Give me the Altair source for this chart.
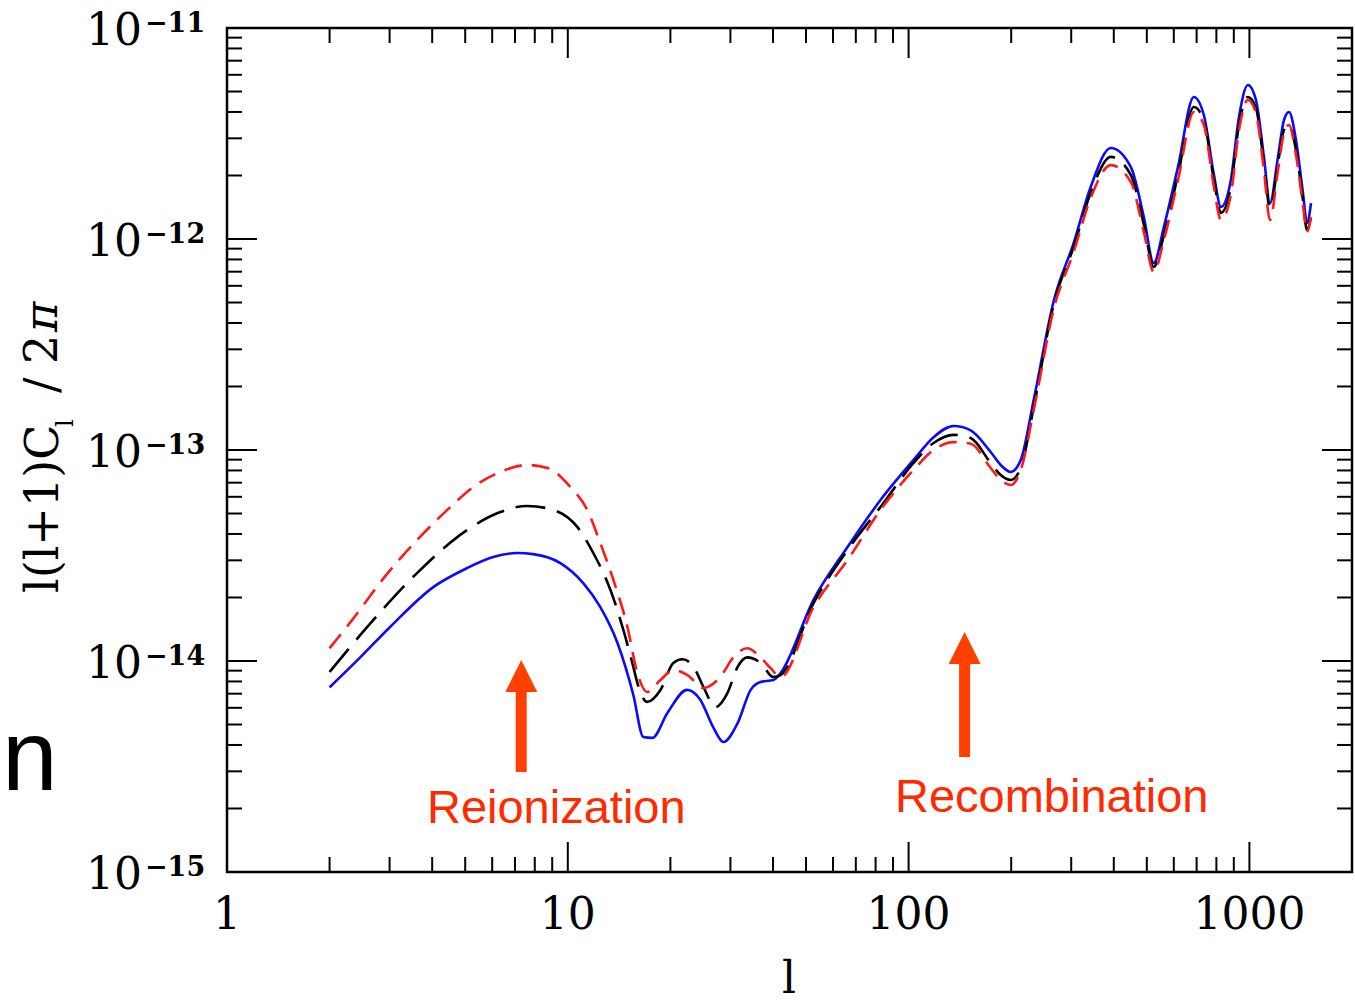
import altair as alt
import pandas as pd

# Plot area size in pixels (frame of the log-log panel)
W, H = 1125, 844

# ---- Angular power spectra l(l+1)C_l/2pi for three reionization histories ----
ell_blue = [2, 2.46, 3.01, 4.03, 5.07, 6.04, 7.11, 7.92, 9.51, 11.1, 12.46, 13.98,
            15.57, 16.66, 17.7, 19.6, 22.4, 24.5, 26.7, 28.6, 31.5, 34.4, 36.8, 40.1,
            42.1, 52.6, 66.2, 82.7, 103.4, 118.4, 135.6, 152.1, 174.1, 186.3, 199.4, 213.3, 232.9,
            267, 305, 342, 392, 449, 490, 524, 561, 617, 687, 735, 787, 825, 882, 932,
            990, 1045, 1103, 1149, 1213, 1263, 1307, 1370, 1436, 1476, 1516]
cl_blue = [7.5e-15, 1.04e-14, 1.45e-14, 2.24e-14, 2.76e-14, 3.11e-14, 3.25e-14, 3.21e-14,
           2.91e-14, 2.34e-14, 1.80e-14, 1.22e-14, 6.9e-15, 4.36e-15, 4.32e-15, 5.67e-15,
           7.3e-15, 6.54e-15, 4.86e-15, 4.13e-15, 5.08e-15, 7.3e-15, 7.95e-15, 8.12e-15,
           8.77e-15, 1.95e-14, 3.47e-14, 5.79e-14, 8.97e-14, 1.15e-13, 1.30e-13, 1.24e-13,
           9.78e-14, 8.49e-14, 7.87e-14, 8.97e-14, 1.73e-13,
           5.14e-13, 9.57e-13, 1.76e-12, 2.70e-12, 2.19e-12, 1.27e-12, 7.69e-13, 1.14e-12,
           2.19e-12, 4.71e-12, 3.87e-12, 2.01e-12, 1.42e-12, 1.90e-12, 3.79e-12, 5.37e-12,
           4.56e-12, 2.45e-12, 1.48e-12, 2.45e-12, 3.66e-12, 4.00e-12, 2.94e-12, 1.65e-12,
           1.19e-12, 1.48e-12]

ell_black = [2, 2.58, 3.61, 5.07, 6.34, 7.60, 9.06, 10.66, 11.88, 13.34, 14.56, 15.57,
             16.0, 17.1, 18.7, 20.4, 21.7, 23.4, 25.0, 27.1, 29.4, 31.5, 33.6, 36.8, 40.1,
             42.1, 52.6, 66.2, 82.7, 103.4, 118.4, 135.6, 152.1, 174.1, 186.3, 199.4, 213.3, 232.9,
             267, 305, 342, 392, 449, 490, 524, 561, 617, 687, 735, 787, 825, 882, 932,
             990, 1045, 1103, 1149, 1213, 1263, 1307, 1370, 1436, 1476, 1516]
cl_black = [8.87e-15, 1.45e-14, 2.61e-14, 4.18e-14, 5.08e-14, 5.43e-14, 5.20e-14, 4.32e-14,
            3.25e-14, 2.17e-14, 1.40e-14, 9.37e-15, 7.87e-15, 6.40e-15, 7.29e-15, 9.79e-15,
            1.02e-14, 9.37e-15, 7.53e-15, 6.05e-15, 7.05e-15, 9.37e-15, 1.04e-14, 9.79e-15, 8.40e-15,
            8.58e-15, 1.88e-14, 3.36e-14, 5.37e-14, 8.68e-14, 1.08e-13, 1.18e-13, 1.14e-13,
            8.68e-14, 7.61e-14, 7.21e-14, 8.22e-14, 1.60e-13,
            4.97e-13, 9.17e-13, 1.65e-12, 2.45e-12, 2.01e-12, 1.17e-12, 7.37e-13, 1.04e-12,
            2.01e-12, 4.22e-12, 3.66e-12, 1.90e-12, 1.33e-12, 1.76e-12, 3.47e-12, 4.71e-12,
            4.18e-12, 2.29e-12, 1.40e-12, 2.29e-12, 3.28e-12, 3.47e-12, 2.64e-12, 1.53e-12,
            1.10e-12, 1.27e-12]

ell_red = [2, 2.34, 2.87, 3.61, 4.43, 5.28, 6.34, 7.60, 8.71, 10.17, 11.41, 12.46, 13.61,
           14.96, 16.0, 17.1, 18.7, 20.4, 22.4, 25.0, 28.0, 30.6, 33.6, 36.8, 39.3,
           42.1, 52.6, 66.2, 82.7, 103.4, 118.4, 135.6, 152.1, 174.1, 186.3, 199.4, 213.3, 232.9,
           267, 305, 342, 392, 449, 490, 524, 561, 617, 687, 735, 787, 825, 882, 932,
           990, 1045, 1103, 1149, 1213, 1263, 1307, 1370, 1436, 1476, 1516]
cl_red = [1.15e-14, 1.58e-14, 2.45e-14, 3.74e-14, 5.20e-14, 6.68e-14, 7.87e-14, 8.49e-14,
          8.22e-14, 6.68e-14, 5.20e-14, 3.62e-14, 2.42e-14, 1.45e-14, 8.77e-15, 7.13e-15,
          8.12e-15, 9.06e-15, 8.59e-15, 7.45e-15, 8.40e-15, 1.04e-14, 1.15e-14, 1.04e-14, 9.27e-15,
          8.40e-15, 1.80e-14, 3.01e-14, 5.20e-14, 8.04e-14, 1.00e-13, 1.09e-13, 1.07e-13,
          8.22e-14, 7.21e-14, 6.83e-14, 8.04e-14, 1.55e-13,
          4.71e-13, 8.68e-13, 1.56e-12, 2.24e-12, 1.86e-12, 1.08e-12, 6.98e-13, 9.89e-13,
          1.90e-12, 4.00e-12, 3.47e-12, 1.76e-12, 1.23e-12, 1.62e-12, 3.28e-12, 4.56e-12,
          3.96e-12, 2.12e-12, 1.23e-12, 2.12e-12, 3.18e-12, 3.47e-12, 2.50e-12, 1.45e-12,
          1.08e-12, 1.27e-12]

# ---- Axis ticks and labels ----
x_major = [1, 10, 100, 1000]
x_major_labels = ["1", "10", "100", "1000"]
x_minor = [k * d for d in (1, 10, 100) for k in range(2, 10)]
y_exponents = [-11, -12, -13, -14, -15]
y_major = [10.0 ** e for e in y_exponents]
y_minor = [k * 10.0 ** e for e in range(-15, -11) for k in range(2, 10)]

# ---- Annotations: arrow positions and label centres (multipole l) ----
ann_labels = ["Reionization", "Recombination"]
ann_arrow_ell = [7.3, 146]
ann_label_ell = [9.25, 263]

SERIF = "DejaVu Serif"
SANS = "Liberation Sans"
ARROW = "#FF4000"
LABEL_RED = "#FF2A00"

xs = alt.Scale(type="log", domain=[1, 2000], nice=False)
ys = alt.Scale(type="log", domain=[1e-15, 1e-11], nice=False)
xenc = alt.X("l:Q", scale=xs, axis=None)


def curve(ell, cl, color, dash=None):
    df = pd.DataFrame({"l": ell, "cl": cl})
    kw = dict(color=color, strokeWidth=2.6, interpolate="monotone", clip=True)
    if dash:
        kw["strokeDash"] = dash
    return alt.Chart(df).mark_line(**kw).encode(
        x=xenc,
        y=alt.Y("cl:Q", scale=ys, axis=None),
    )


blue = curve(ell_blue, cl_blue, "#0a0aff")
black = curve(ell_black, cl_black, "#000000", [30, 12])
red = curve(ell_red, cl_red, "#ff1a1a", [18, 10])

xmaj_df = pd.DataFrame({"l": x_major, "lab": x_major_labels})
xmin_df = pd.DataFrame({"l": x_minor})
ymaj_df = pd.DataFrame({"v": y_major, "sup": ["\u2212" + str(-e) for e in y_exponents]})
ymin_df = pd.DataFrame({"v": y_minor})


def xticks(df, length):
    base = alt.Chart(df).mark_rule(color="black", strokeWidth=2)
    return [
        base.encode(x=xenc, y=alt.value(H), y2=alt.value(H - length)),
        base.encode(x=xenc, y=alt.value(0), y2=alt.value(length)),
    ]


def yticks(df, length):
    base = alt.Chart(df).mark_rule(color="black", strokeWidth=2)
    yenc = alt.Y("v:Q", scale=ys, axis=None)
    return [
        base.encode(y=yenc, x=alt.value(0), x2=alt.value(length)),
        base.encode(y=yenc, x=alt.value(W), x2=alt.value(W - length)),
    ]


ticks = xticks(xmaj_df, 30) + xticks(xmin_df, 15) + yticks(ymaj_df, 30) + yticks(ymin_df, 15)

x_labels = alt.Chart(xmaj_df).mark_text(
    font=SERIF, fontSize=44, align="center", baseline="middle", color="black"
).encode(x=xenc, y=alt.value(H + 44), text="lab:N")

y_base = alt.Chart(ymaj_df).mark_text(
    font=SERIF, fontSize=44, align="right", baseline="middle", dy=4, color="black"
).encode(y=alt.Y("v:Q", scale=ys, axis=None), x=alt.value(-85), text=alt.value("10"))

y_sup = alt.Chart(ymaj_df).mark_text(
    font=SERIF, fontSize=27, fontWeight="bold", align="left", baseline="middle", dy=-4,
    color="black"
).encode(y=alt.Y("v:Q", scale=ys, axis=None), x=alt.value(-82), text="sup:N")


def ytitle_piece(text, x, y, size, style="normal"):
    return alt.Chart(pd.DataFrame({"t": [text]})).mark_text(
        font=SERIF, fontSize=size, fontStyle=style, angle=270, align="left",
        baseline="alphabetic", color="black"
    ).encode(x=alt.value(x), y=alt.value(y), text="t:N")


# Rotated y-axis title: l(l+1)C_l /2pi
ytitle = [
    ytitle_piece("l(l+1)C", -169, 565, 46),
    ytitle_piece("l", -154, 399, 24),
    ytitle_piece("/", -170, 365, 46),
    ytitle_piece("2", -170, 336, 46),
    ytitle_piece("\u03c0", -170, 304, 46, "italic"),
]

xtitle = alt.Chart(pd.DataFrame({"t": ["l"]})).mark_text(
    font=SERIF, fontSize=44, align="center", baseline="middle", color="black"
).encode(x=alt.value(562), y=alt.value(952), text="t:N")

# Stray slide letter at the left margin
stray = alt.Chart(pd.DataFrame({"t": ["n"]})).mark_text(
    font=SANS, fontSize=100, align="left", baseline="alphabetic", color="black"
).encode(x=alt.value(-225), y=alt.value(762), text="t:N")

# Arrows pointing at the two features
arrow_df = pd.DataFrame({"l": ann_arrow_ell})
head_shape = "M-1,1 L1,1 L0,-1 Z"
arrows = []
for i, (y_bottom, y_tip) in enumerate([(744, 660), (729, 632)]):
    one = arrow_df.iloc[[i]]
    arrows.append(alt.Chart(one).mark_rule(color=ARROW, strokeWidth=11).encode(
        x=xenc, y=alt.value(y_bottom), y2=alt.value(y_tip)))
    arrows.append(alt.Chart(one).mark_point(
        shape=head_shape, size=1024, filled=True, color=ARROW, opacity=1, strokeWidth=0
    ).encode(x=xenc, y=alt.value(y_tip - 12)))

labels = []
for i, y_base_px in enumerate([795, 784]):
    labels.append(alt.Chart(pd.DataFrame({"l": [ann_label_ell[i]], "lab": [ann_labels[i]]}))
                  .mark_text(font=SANS, fontSize=47, align="center", baseline="alphabetic",
                             color=LABEL_RED)
                  .encode(x=xenc, y=alt.value(y_base_px), text="lab:N"))

chart = alt.layer(
    *ticks, blue, black, red,
    x_labels, y_base, y_sup,
    *ytitle, xtitle, stray,
    *arrows, *labels,
).properties(
    width=W, height=H,
    autosize=alt.AutoSizeParams(type="none"),
    padding={"left": 227, "top": 28, "right": 3, "bottom": 130},
    background="white",
).configure_view(stroke="black", strokeWidth=2.5)

chart.save("out.html", embed_options={"renderer": "svg", "actions": False})
